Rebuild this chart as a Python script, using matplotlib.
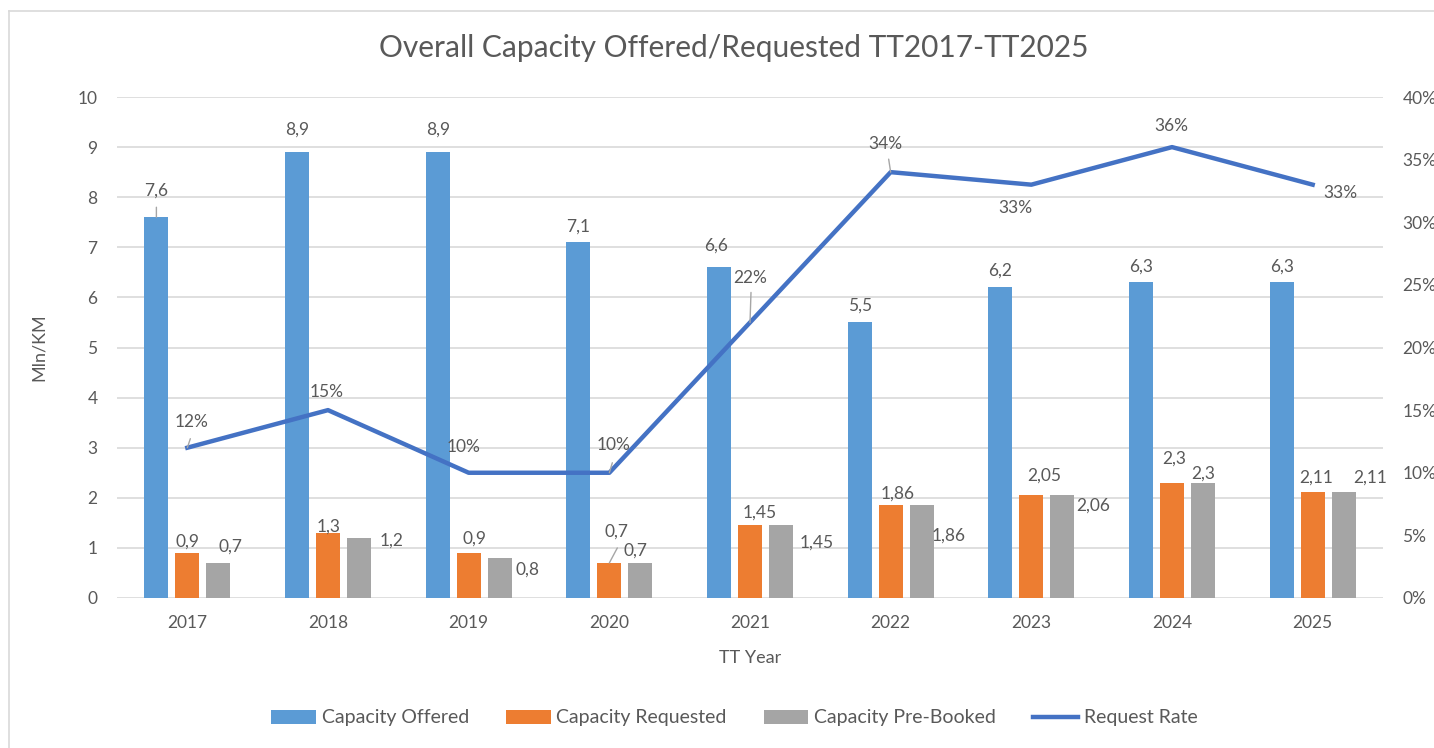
import matplotlib
matplotlib.use("Agg")
import matplotlib.pyplot as plt
import numpy as np

# data
years = ["2017", "2018", "2019", "2020", "2021", "2022", "2023", "2024", "2025"]
offered = [7.6, 8.9, 8.9, 7.1, 6.6, 5.5, 6.2, 6.3, 6.3]
requested = [0.9, 1.3, 0.9, 0.7, 1.45, 1.86, 2.05, 2.3, 2.11]
prebooked = [0.7, 1.2, 0.8, 0.7, 1.45, 1.86, 2.06, 2.3, 2.11]
req_rate = [12, 15, 10, 10, 22, 34, 33, 36, 33]  # percent

plt.rcParams['font.family'] = ['Lato', 'DejaVu Sans']
txt = '#595959'
c_off, c_req, c_pre, c_line = '#5B9BD5', '#ED7D31', '#A5A5A5', '#4472C4'

fig = plt.figure(figsize=(14.34, 7.48), dpi=100)
ax = fig.add_axes([117/1434, 1-598/748, (1383-117)/1434, (598-97)/748])
ax2 = ax.twinx()

x = np.arange(len(years))
w = 0.17
step = 0.22
ax.bar(x - step, offered, w, color=c_off, label='Capacity Offered', zorder=2)
ax.bar(x, requested, w, color=c_req, label='Capacity Requested', zorder=2)
ax.bar(x + step, prebooked, w, color=c_pre, label='Capacity Pre-Booked', zorder=2)
ax2.plot(x, np.array(req_rate) / 100, color=c_line, lw=3.2, label='Request Rate', zorder=3)

ax.set_xlim(-0.5, len(years) - 0.5)
ax.set_ylim(0, 10)
ax.set_yticks(range(0, 11))
ax2.set_ylim(0, 0.4)
ax2.set_yticks(np.arange(0, 0.41, 0.05))
ax2.set_yticklabels([f"{int(round(v*100))}%" for v in np.arange(0, 0.41, 0.05)])
ax.set_xticks(x)
ax.set_xticklabels(years)

ax.grid(axis='y', color='#D9D9D9', lw=1.2, zorder=0)
for a in (ax, ax2):
    for s in a.spines.values():
        s.set_visible(False)
    a.tick_params(length=0, labelsize=12.5, labelcolor=txt)
ax.tick_params(axis='y', pad=14)
ax.tick_params(axis='x', pad=12)
ax2.tick_params(axis='y', pad=14)

ax.set_xlabel('TT Year', fontsize=13, color=txt, labelpad=14)
ax.set_ylabel('Mln/KM', fontsize=13, color=txt, labelpad=22)
fig.text(0.512, 1-48/748, 'Overall Capacity Offered/Requested TT2017-TT2025',
         ha='center', va='center', fontsize=21.5, color=txt)

def fmt(v):
    return f"{v:g}".replace('.', ',')

# label offsets in pixels (dx, dy) relative to the value point
off_offered = [(0, 27), (0, 22), (0, 22), (0, 16), (-3, 22), (0, 17), (0, 17), (0, 16), (0, 16)]
off_req = [(0, 11), (1, 6), (6, 14), (7, 31), (10, 13), (7, 11), (13, 20), (2, 24), (3, 15)]
off_pre = [(12, 16), (33, -3), (28, -12), (-5, 12), (36, -17), (27, -31), (31, -11), (0, 9), (27, 15)]
off_rate = [(4, 26), (-1, 18), (-5, 26), (4, 28), (0, 44), (-5, 28), (-16, -23), (-1, 21), (28, -8)]

for i in range(len(years)):
    ax.annotate(fmt(offered[i]), (x[i] - step, offered[i]), xytext=off_offered[i],
                textcoords='offset pixels', ha='center', va='center', fontsize=12.5, color=txt)
    ax.annotate(fmt(requested[i]), (x[i], requested[i]), xytext=off_req[i],
                textcoords='offset pixels', ha='center', va='center', fontsize=12.5, color=txt)
    ax.annotate(fmt(prebooked[i]), (x[i] + step, prebooked[i]), xytext=off_pre[i],
                textcoords='offset pixels', ha='center', va='center', fontsize=12.5, color=txt)
    ax2.annotate(f"{req_rate[i]}%", (x[i], req_rate[i] / 100), xytext=off_rate[i],
                 textcoords='offset pixels', ha='center', va='center', fontsize=12.5, color=txt,
                 zorder=4)

# leader lines (from a point on the mark up to the moved label)
leader = dict(arrowstyle='-', color='#A6A6A6', lw=1, shrinkA=0, shrinkB=0)
ax.annotate('', (x[0] - step, offered[0]), xytext=(0, 10), textcoords='offset pixels',
            arrowprops=leader)
ax.annotate('', (x[3], requested[3]), xytext=(8, 15), textcoords='offset pixels',
            arrowprops=leader)
ax2.annotate('', (x[4], req_rate[4] / 100), xytext=(1, 30), textcoords='offset pixels',
             arrowprops=leader)
ax2.annotate('', (x[5], req_rate[5] / 100), xytext=(-2, 13), textcoords='offset pixels',
             arrowprops=leader)
ax2.annotate('', (x[3], req_rate[3] / 100), xytext=(3, 10), textcoords='offset pixels',
             arrowprops=leader)
ax2.annotate('', (x[0], req_rate[0] / 100), xytext=(3, 9), textcoords='offset pixels',
             arrowprops=leader)

h1, l1 = ax.get_legend_handles_labels()
h2, l2 = ax2.get_legend_handles_labels()
fig.legend(h1 + h2, l1 + l2, loc='center', bbox_to_anchor=(0.512, 1-718/748), ncol=4,
           frameon=False, fontsize=14, labelcolor=txt, handlelength=2.3, handleheight=0.7,
           handletextpad=0.3, columnspacing=1.9)

# chart border
fig.add_artist(plt.Line2D([9/1434, 9/1434], [0, 1-11/748], color='#D9D9D9', lw=1.2))
fig.add_artist(plt.Line2D([9/1434, 1], [1-11/748, 1-11/748], color='#D9D9D9', lw=1.2))

fig.savefig('out.png', dpi=100)
